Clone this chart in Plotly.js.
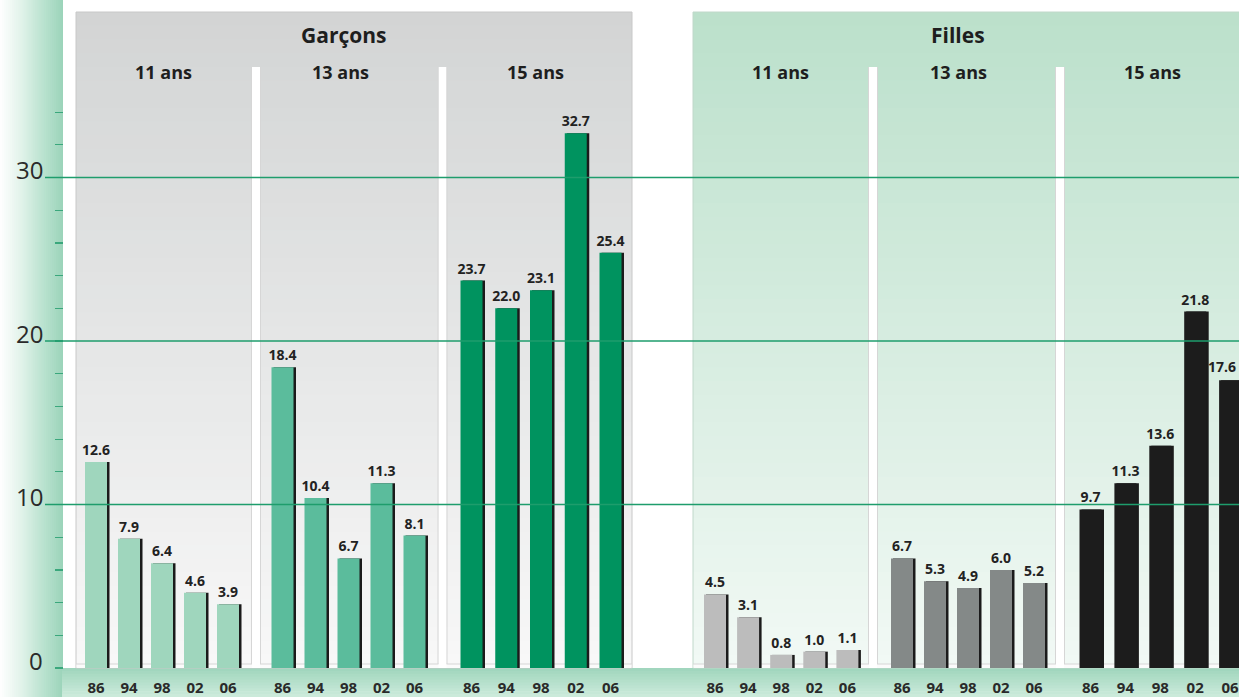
<!DOCTYPE html>
<html><head><meta charset="utf-8">
<script src="https://cdn.plot.ly/plotly-3.0.1.min.js"></script>
<style>html,body{margin:0;padding:0;background:#fff;overflow:hidden}</style>
</head><body><div id="chart" style="width:1239px;height:697px"></div>
<script>
// ---------- data ----------
const years = ['86', '94', '98', '02', '06'];
const ageGroups = ['11 ans', '13 ans', '15 ans'];
const sexes = ['Garçons', 'Filles'];
const garcons11 = [12.6, 7.9, 6.4, 4.6, 3.9];
const garcons13 = [18.4, 10.4, 6.7, 11.3, 8.1];
const garcons15 = [23.7, 22.0, 23.1, 32.7, 25.4];
const filles11 = [4.5, 3.1, 0.8, 1.0, 1.1];
const filles13 = [6.7, 5.3, 4.9, 6.0, 5.2];
const filles15 = [9.7, 11.3, 13.6, 21.8, 17.6];
const yTicks = [0, 10, 20, 30];

// ---------- layout constants ----------
const W = 1239, H = 697, B = 29, PH = H - B;
const P = px => px / W;
const Q = py => (PH - py) / PH;
const pxPerUnit = 16.35;
const yMax = PH / pxPerUnit;

const series = [garcons11, garcons13, garcons15, filles11, filles13, filles15];
const groupStart = [96, 282.5, 471.5, 715, 902, 1090.5];
const groupStep = [33, 33, 34.75, 33.1, 33, 34.9];
const colors = ['#9fd6bd', '#5bbc9c', '#00935f', '#bcbcbc', '#848988', '#1c1c1c'];
const subLabelX = [163, 340, 535, 780, 958, 1152];
const sexLabelX = [343, 958];
const FONT = 'Open Sans, sans-serif';

function hex(c){return [parseInt(c.substr(1,2),16),parseInt(c.substr(3,2),16),parseInt(c.substr(5,2),16)];}
function colAt(stops,t){
  for(let i=0;i<stops.length-1;i++){
    const [t0,c0]=stops[i],[t1,c1]=stops[i+1];
    if(t<=t1){const u=(t-t0)/(t1-t0);const a=hex(c0),b=hex(c1);
      return 'rgb('+a.map((v,k)=>Math.round(v+(b[k]-v)*u)).join(',')+')';}
  }
  return stops[stops.length-1][1];
}
const shapes = [];
function vgrad(x0,x1,y0,y1,stops,n){
  for(let i=0;i<n;i++){
    const a=y0+(y1-y0)*i/n, b=y0+(y1-y0)*(i+1)/n+0.6;
    shapes.push({type:'rect',xref:'paper',yref:'paper',x0:P(x0),x1:P(x1),y0:Q(a),y1:Q(Math.min(b,y1)),
      fillcolor:colAt(stops,(i+0.5)/n),line:{width:0},layer:'below'});
  }
}
function hgrad(x0,x1,y0,y1,stops,n){
  for(let i=0;i<n;i++){
    const a=x0+(x1-x0)*i/n, b=x0+(x1-x0)*(i+1)/n+0.6;
    shapes.push({type:'rect',xref:'paper',yref:'paper',x0:P(a),x1:P(Math.min(b,x1)),y0:Q(y0),y1:Q(y1),
      fillcolor:colAt(stops,(i+0.5)/n),line:{width:0},layer:'below'});
  }
}
function rect(x0,x1,y0,y1,fill,line){
  shapes.push({type:'rect',xref:'paper',yref:'paper',x0:P(x0),x1:P(x1),y0:Q(y0),y1:Q(y1),
    fillcolor:fill||'rgba(0,0,0,0)',line:line||{width:0},layer:'below'});
}

// left strip & bottom band
hgrad(0,63,0,697,[[0,'#ffffff'],[0.35,'#e0f2e9'],[0.75,'#b2dfca'],[1,'#9ad3b9']],32);
vgrad(62,1239,668,697,[[0,'#9fd5bc'],[1,'#cdebdc']],10);
// panels
vgrad(76,632,12,668,[[0,'#d3d3d3'],[0.1,'#d6d8d8'],[1,'#f8f8f8']],48);
vgrad(693,1240,12,668,[[0,'#bbe0cb'],[1,'#f2f9f5']],48);
rect(76,632,12,668,null,{color:'#c8c8c8',width:1});
rect(693,1240,12,668,null,{color:'#c0d8ca',width:1});
// bottom strips of sub-panels
[[76,632],[693,1240]].forEach(([a,b])=>{
  rect(a+0.5,b-0.5,664,668,'#fbfbfb',{width:0});
  shapes.push({type:'line',xref:'paper',yref:'paper',x0:P(a),x1:P(b),y0:Q(664),y1:Q(664),line:{color:'#d6d6d6',width:1},layer:'below'});
});
// separators
[[252,260],[438.5,446.5],[869,877],[1056,1064]].forEach(([a,b])=>{
  rect(a,b,67,668,'#ffffff',{width:0});
  shapes.push({type:'line',xref:'paper',yref:'paper',x0:P(a-0.5),x1:P(a-0.5),y0:Q(67),y1:Q(664),line:{color:'#d6d6d6',width:1},layer:'below'});
  shapes.push({type:'line',xref:'paper',yref:'paper',x0:P(b+0.5),x1:P(b+0.5),y0:Q(67),y1:Q(664),line:{color:'#d6d6d6',width:1},layer:'below'});
});
// grid lines (above bars)
yTicks.filter(v=>v>0).forEach(v=>{
  shapes.push({type:'line',xref:'paper',yref:'y',x0:P(45),x1:1,y0:v,y1:v,line:{color:'#1e9d6c',width:1.4},layer:'above'});
});

// ---------- traces ----------
const xs = series.map((s,g)=>s.map((v,i)=>groupStart[g]+i*groupStep[g]));
const allX = [].concat(...xs), allY = [].concat(...series);
const traces = [];
traces.push({type:'bar',x:allX,y:allY,width:22.5,offset:-9,marker:{color:'#1b1b1b',line:{width:0}},hoverinfo:'skip',showlegend:false});
const lastG = series.length-1, lastI = series[lastG].length-1;
series.forEach((s,g)=>{
  traces.push({type:'bar',x:xs[g],y:s,width:22,offset:-11,
    marker:{color:colors[g],line:{width:0}},
    text:s.map((v,i)=>(g===lastG&&i===lastI)?'':v.toFixed(1)),textposition:'outside',constraintext:'none',cliponaxis:false,
    textfont:{family:FONT,size:14,color:'#222',weight:700},
    hoverinfo:'x+y',showlegend:false});
});

// ---------- annotations ----------
const annotations = [];
sexes.forEach((s,i)=>annotations.push({xref:'paper',yref:'paper',x:P(sexLabelX[i]),y:Q(35),text:s,showarrow:false,
  xanchor:'center',yanchor:'middle',font:{family:FONT,size:21,color:'#1e1e1e',weight:700}}));
for(let g=0;g<6;g++){
  annotations.push({xref:'paper',yref:'paper',x:P(subLabelX[g]),y:Q(72),text:ageGroups[g%3],showarrow:false,
    xanchor:'center',yanchor:'middle',font:{family:FONT,size:18,color:'#1e1e1e',weight:700}});
}
// last value label kept fully inside the picture (right edge)
annotations.push({xref:'paper',yref:'y',x:1,xshift:-1,y:series[lastG][lastI],yshift:2,text:series[lastG][lastI].toFixed(1),
  showarrow:false,xanchor:'right',yanchor:'bottom',font:{family:FONT,size:14,color:'#222',weight:700}});
yTicks.forEach(v=>annotations.push({xref:'paper',yref:'y',x:P(45),y:v,yshift:8,text:String(v),showarrow:false,
  xanchor:'right',yanchor:'middle',font:{family:FONT,size:24,color:'#2a2a2a'}}));

const minorTicks=[]; for(let v=0;v<=34;v+=2) minorTicks.push(v);

const layout = {
  width:W,height:H,margin:{l:0,r:0,t:0,b:B,pad:0},
  paper_bgcolor:'#ffffff',plot_bgcolor:'rgba(0,0,0,0)',
  barmode:'overlay',showlegend:false,
  xaxis:{range:[0,W],domain:[0,1],tickvals:allX,ticktext:[].concat(...series.map(()=>years)),
    ticks:'',ticklabelstandoff:9,ticklabeloverflow:'allow',showgrid:false,zeroline:false,showline:false,fixedrange:true,
    tickfont:{family:FONT,size:15,color:'#2a2a2a',weight:700},tickangle:0},
  yaxis:{range:[0,yMax],anchor:'free',position:P(63),showgrid:false,zeroline:false,showline:false,
    showticklabels:false,ticks:'outside',ticklen:8,tickwidth:1.2,tickcolor:'#3aa77c',
    tickmode:'array',tickvals:minorTicks,fixedrange:true},
  shapes:shapes,annotations:annotations
};
Plotly.newPlot('chart',traces,layout,{displayModeBar:false,staticPlot:true});
</script></body></html>
